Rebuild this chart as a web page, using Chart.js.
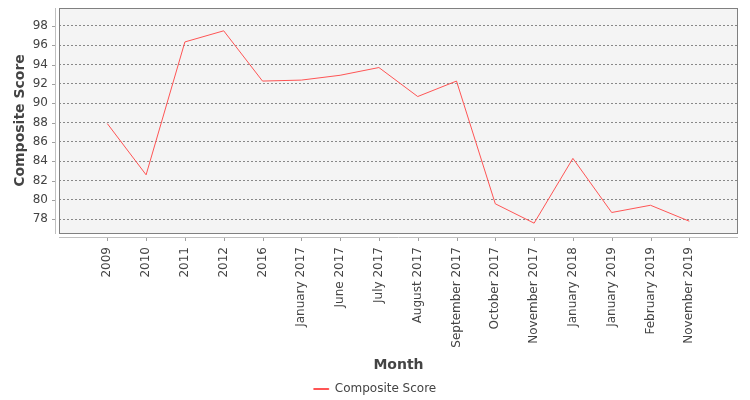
<!DOCTYPE html>
<html>
<head>
<meta charset="utf-8">
<title>Composite Score by Month</title>
<script src="https://cdn.jsdelivr.net/npm/chart.js@4.4.1/dist/chart.umd.min.js"></script>
<style>
  html, body { margin: 0; padding: 0; background: #ffffff; }
  #wrap { width: 750px; height: 400px; position: relative; }
</style>
</head>
<body>
<div id="wrap"><canvas id="chart"></canvas></div>
<script>
// data
const months = ['2009', '2010', '2011', '2012', '2016', 'January 2017', 'June 2017', 'July 2017',
    'August 2017', 'September 2017', 'October 2017', 'November 2017', 'January 2018',
    'January 2019', 'February 2019', 'November 2019'];
const scores = [87.9, 82.6, 96.35, 97.5, 92.3, 92.4, 92.9, 93.7, 90.7, 92.3, 79.6, 77.6, 84.3, 78.7, 79.45, 77.8];
const yTicks = [78, 80, 82, 84, 86, 88, 90, 92, 94, 96, 98];

const FONT = 'DejaVu Sans';
const TEXT = '#444444';

// plot background, border and the detached axis lines
const plotFrame = {
    id: 'plotFrame',
    beforeDraw: (chart) => {
        const { ctx, chartArea: a } = chart;
        ctx.save();
        ctx.fillStyle = '#f4f4f4';
        ctx.fillRect(a.left, a.top, a.right - a.left, a.bottom - a.top);
        ctx.restore();
    },
    afterDraw: (chart) => {
        const { ctx, chartArea: a, scales } = chart;
        ctx.save();
        ctx.strokeStyle = '#808080';
        ctx.lineWidth = 1;
        ctx.strokeRect(a.left + 0.5, a.top + 0.5, a.right - a.left - 1, a.bottom - a.top);

        // axis lines sit a few px outside the plot
        ctx.strokeStyle = '#c0c0c0';
        ctx.beginPath();
        ctx.moveTo(a.left - 3.5, a.top);
        ctx.lineTo(a.left - 3.5, a.bottom + 1);
        ctx.moveTo(a.left, a.bottom + 4.5);
        ctx.lineTo(a.right, a.bottom + 4.5);
        ctx.stroke();

        ctx.strokeStyle = '#a0a0a0';
        ctx.beginPath();
        scales.x.ticks.forEach((t, i) => {
            const px = Math.round(scales.x.getPixelForTick(i)) + 0.5;
            ctx.moveTo(px, a.bottom + 5);
            ctx.lineTo(px, a.bottom + 8);
        });
        scales.y.ticks.forEach((t, i) => {
            const py = Math.round(scales.y.getPixelForTick(i)) + 0.5;
            ctx.moveTo(a.left - 7, py);
            ctx.lineTo(a.left - 4, py);
        });
        ctx.stroke();
        ctx.restore();
    }
};

document.addEventListener('DOMContentLoaded', () => {
    const ctx = document.getElementById('chart');

    new Chart(ctx, {
        type: 'line',
        data: {
            datasets: [{
                label: 'Composite Score',
                data: scores.map((v, i) => ({ x: i, y: v })),
                borderColor: '#ff5555',
                backgroundColor: '#ff5555',
                borderWidth: 1,
                pointRadius: 0,
                pointHoverRadius: 0,
                tension: 0,
                fill: false
            }]
        },
        options: {
            responsive: true,
            maintainAspectRatio: false,
            animation: false,
            // negative bottom pushes the legend down to where the reference has it
            layout: { padding: { top: 8, right: 0, left: 0, bottom: -5 } },
            plugins: {
                tooltip: { enabled: false },
                legend: {
                    position: 'bottom',
                    labels: {
                        color: TEXT,
                        font: { family: FONT, size: 12 },
                        boxWidth: 15,
                        boxHeight: 1,
                        padding: 1
                    }
                }
            },
            scales: {
                x: {
                    type: 'linear',
                    min: -1.245,
                    max: 16.255,
                    afterBuildTicks: (scale) => {
                        scale.ticks = months.map((m, i) => ({ value: i }));
                    },
                    afterFit: (scale) => { scale.height = 149; },
                    grid: { display: false },
                    border: { display: false },
                    ticks: {
                        autoSkip: false,
                        minRotation: 90,
                        maxRotation: 90,
                        padding: 6,
                        color: TEXT,
                        font: { family: FONT, size: 12 },
                        callback: (v) => months[v]
                    },
                    title: {
                        display: true,
                        text: 'Month',
                        color: TEXT,
                        font: { family: FONT, size: 14, weight: 'bold' },
                        padding: { top: 0, bottom: 8 }
                    }
                },
                y: {
                    min: 76.58,
                    max: 99.86,
                    afterBuildTicks: (scale) => {
                        scale.ticks = yTicks.map(v => ({ value: v }));
                    },
                    afterFit: (scale) => { scale.width = 59; },
                    grid: {
                        color: '#888888',
                        lineWidth: 1,
                        drawTicks: true,
                        tickLength: 11,
                        tickColor: 'rgba(0,0,0,0)'
                    },
                    border: { display: false, dash: [2, 2] },
                    ticks: {
                        padding: 0,
                        color: TEXT,
                        font: { family: FONT, size: 12 }
                    },
                    title: {
                        display: true,
                        text: 'Composite Score',
                        color: TEXT,
                        font: { family: FONT, size: 14, weight: 'bold' },
                        padding: { top: 12, bottom: 0 }
                    }
                },
                // empty right-hand strip so the legend stays centred on the canvas
                yRight: {
                    type: 'linear',
                    position: 'right',
                    afterFit: (scale) => { scale.width = 12; },
                    grid: { display: false },
                    border: { display: false },
                    ticks: { display: false }
                }
            }
        },
        plugins: [plotFrame]
    });
});
</script>
</body>
</html>
